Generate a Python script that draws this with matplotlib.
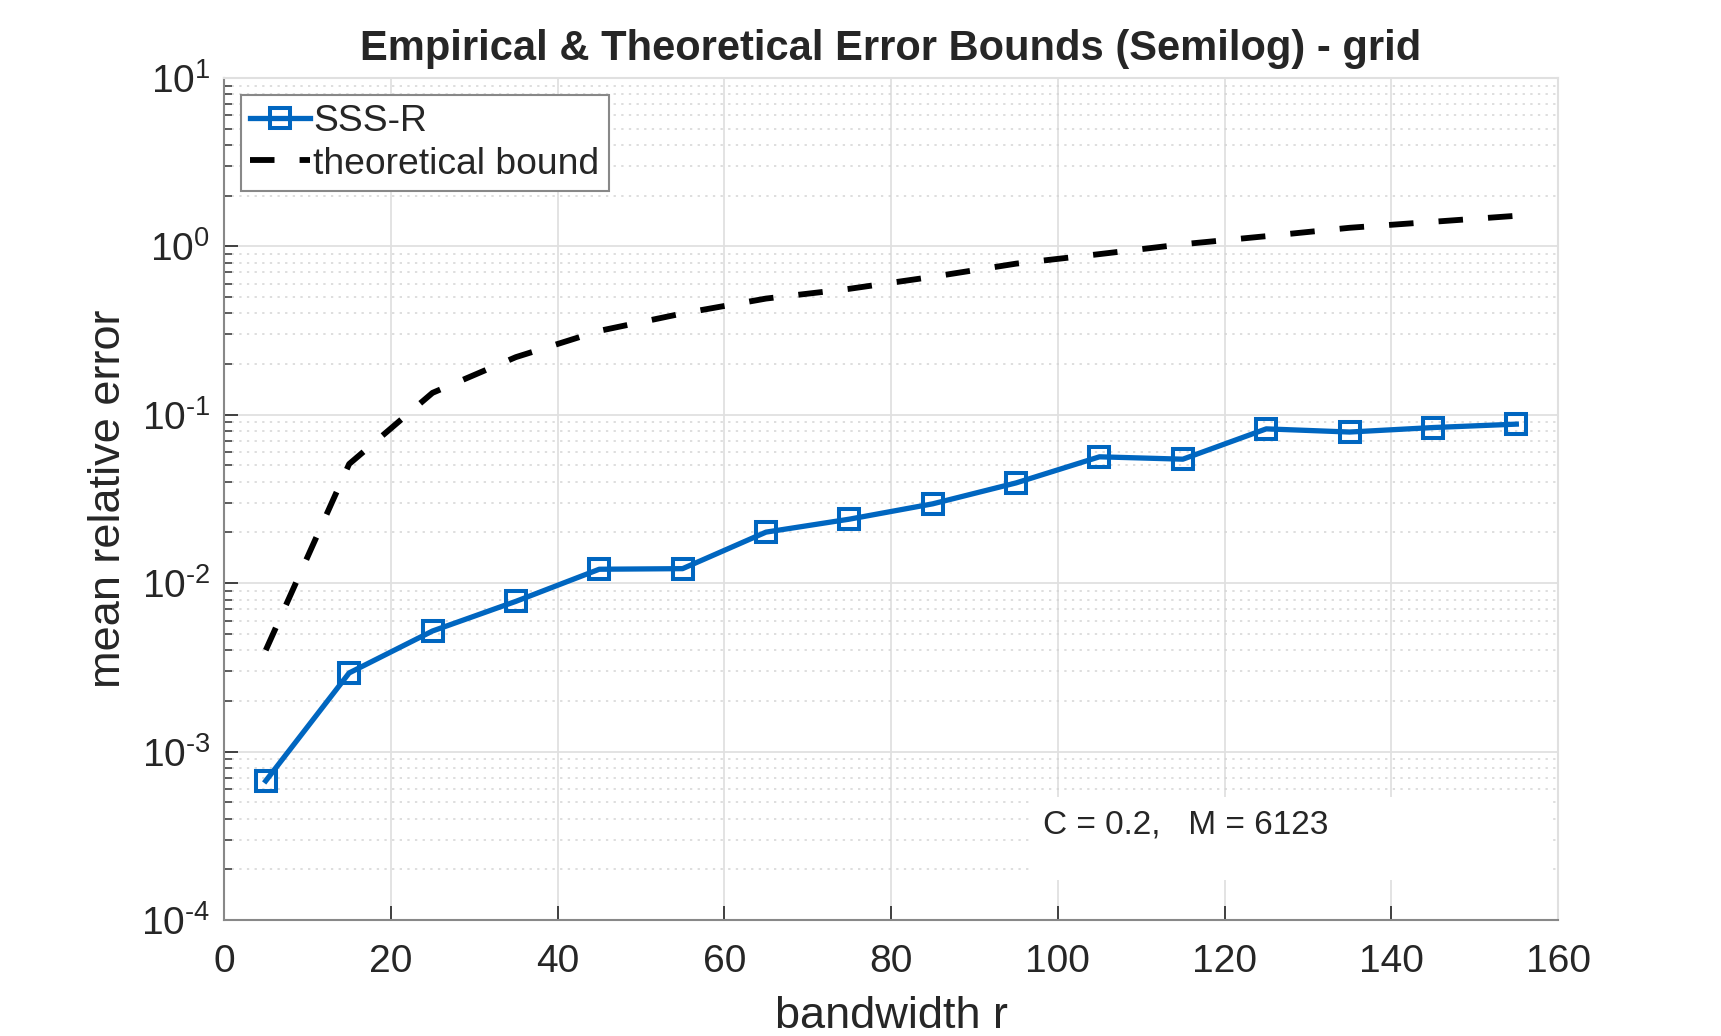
import numpy as np
import matplotlib
matplotlib.use('Agg')
import matplotlib.pyplot as plt
from matplotlib.patches import Rectangle
from matplotlib.ticker import LogLocator, NullFormatter, MultipleLocator, FuncFormatter

# bandwidth values (x) and measured / theoretical errors (y)
bandwidth = [5, 15, 25, 35, 45, 55, 65, 75, 85, 95, 105, 115, 125, 135, 145, 155]
sss_r_err = [6.7e-4, 2.93e-3, 5.2e-3, 7.8e-3, 0.0121, 0.0122, 0.0201, 0.0240, 0.0296,
             0.0394, 0.0563, 0.0545, 0.0825, 0.0790, 0.0840, 0.0880]
theory_err = [4.0e-3, 0.051, 0.135, 0.22, 0.315, 0.40, 0.49, 0.56, 0.66, 0.79,
              0.90, 1.03, 1.15, 1.29, 1.40, 1.52]

title_text = "Empirical & Theoretical Error Bounds (Semilog) - grid"
note_text = "C = 0.2,   M = 6123"

plt.rcParams['font.family'] = ['Liberation Sans', 'DejaVu Sans']
plt.rcParams['mathtext.fontset'] = 'custom'
plt.rcParams['mathtext.rm'] = 'Liberation Sans'
plt.rcParams['mathtext.it'] = 'Liberation Sans'
plt.rcParams['axes.unicode_minus'] = False

blue = '#0066C0'
txt = '#262626'
grid_c = '#e0e0e0'


def pow10_label(v, pos):
    # matlab style 10^-k with a short hyphen
    e = int(round(np.log10(v)))
    if e < 0:
        return r'$\mathdefault{10^{\text{-}%d}}$' % (-e)
    return r'$\mathdefault{10^{%d}}$' % e


fig = plt.figure(figsize=(17.21, 10.36), dpi=100)
ax = fig.add_axes([0.1302, 0.112, 0.9053 - 0.1302, 0.9247 - 0.112])

ax.set_yscale('log')
ax.set_xlim(0, 160)
ax.set_ylim(1e-4, 1e1)

ax.plot(bandwidth, sss_r_err, color=blue, lw=3.8, marker='s', ms=15,
        mfc='none', mec=blue, mew=2.9, label='SSS-R', zorder=4)
ax.plot(bandwidth, theory_err, color='black', lw=4.2, ls=(0, (4.2, 4.3)),
        label='theoretical bound', zorder=4)

# grid like matlab: solid major, dotted minor on y
ax.grid(True, which='major', color=grid_c, lw=1.3, zorder=0)
ax.grid(True, which='minor', axis='y', color='#d4d4d4', lw=1.1, ls=(0, (1.5, 3.5)), zorder=0)
ax.set_axisbelow(True)

ax.xaxis.set_major_locator(MultipleLocator(20))
ax.yaxis.set_major_locator(LogLocator(base=10, numticks=10))
ax.yaxis.set_major_formatter(FuncFormatter(pow10_label))
ax.yaxis.set_minor_locator(LogLocator(base=10, subs=np.arange(2, 10), numticks=20))
ax.yaxis.set_minor_formatter(NullFormatter())

ax.tick_params(which='major', direction='in', length=10, width=1.3, color='#333333',
               labelsize=28, labelcolor=txt)
ax.tick_params(axis='x', which='major', pad=17)
ax.tick_params(axis='y', which='major', pad=10)
ax.tick_params(which='minor', direction='in', length=6, width=1.1, color='#333333')

for side in ['left', 'bottom']:
    ax.spines[side].set_color('#888888')
    ax.spines[side].set_linewidth(1.5)
for side in ['top', 'right']:
    ax.spines[side].set_color(grid_c)
    ax.spines[side].set_linewidth(1.5)

ax.set_xlabel('bandwidth r', fontsize=32.5, color=txt, labelpad=12)
ax.set_ylabel('mean relative error', fontsize=32.5, color=txt, labelpad=9)
ax.set_title(title_text, fontsize=30, fontweight='bold', color=txt, pad=13)

# white annotation box on top of the grid
ax.add_patch(Rectangle((0.604, 0.0475), 0.389, 0.0985, transform=ax.transAxes,
                       facecolor='white', edgecolor='none', zorder=2))
ax.text(0.614, 0.113, note_text, transform=ax.transAxes, fontsize=24,
        color=txt, va='center', ha='left', zorder=3)

leg = ax.legend(loc='upper left', fontsize=26.8, borderaxespad=0.45,
                handlelength=1.6, handletextpad=0.1, labelspacing=0.2,
                borderpad=0.25, fancybox=False, framealpha=1, edgecolor='#888888')
leg.get_frame().set_linewidth(1.5)
for t in leg.get_texts():
    t.set_color(txt)

fig.savefig('out.png', dpi=100)
